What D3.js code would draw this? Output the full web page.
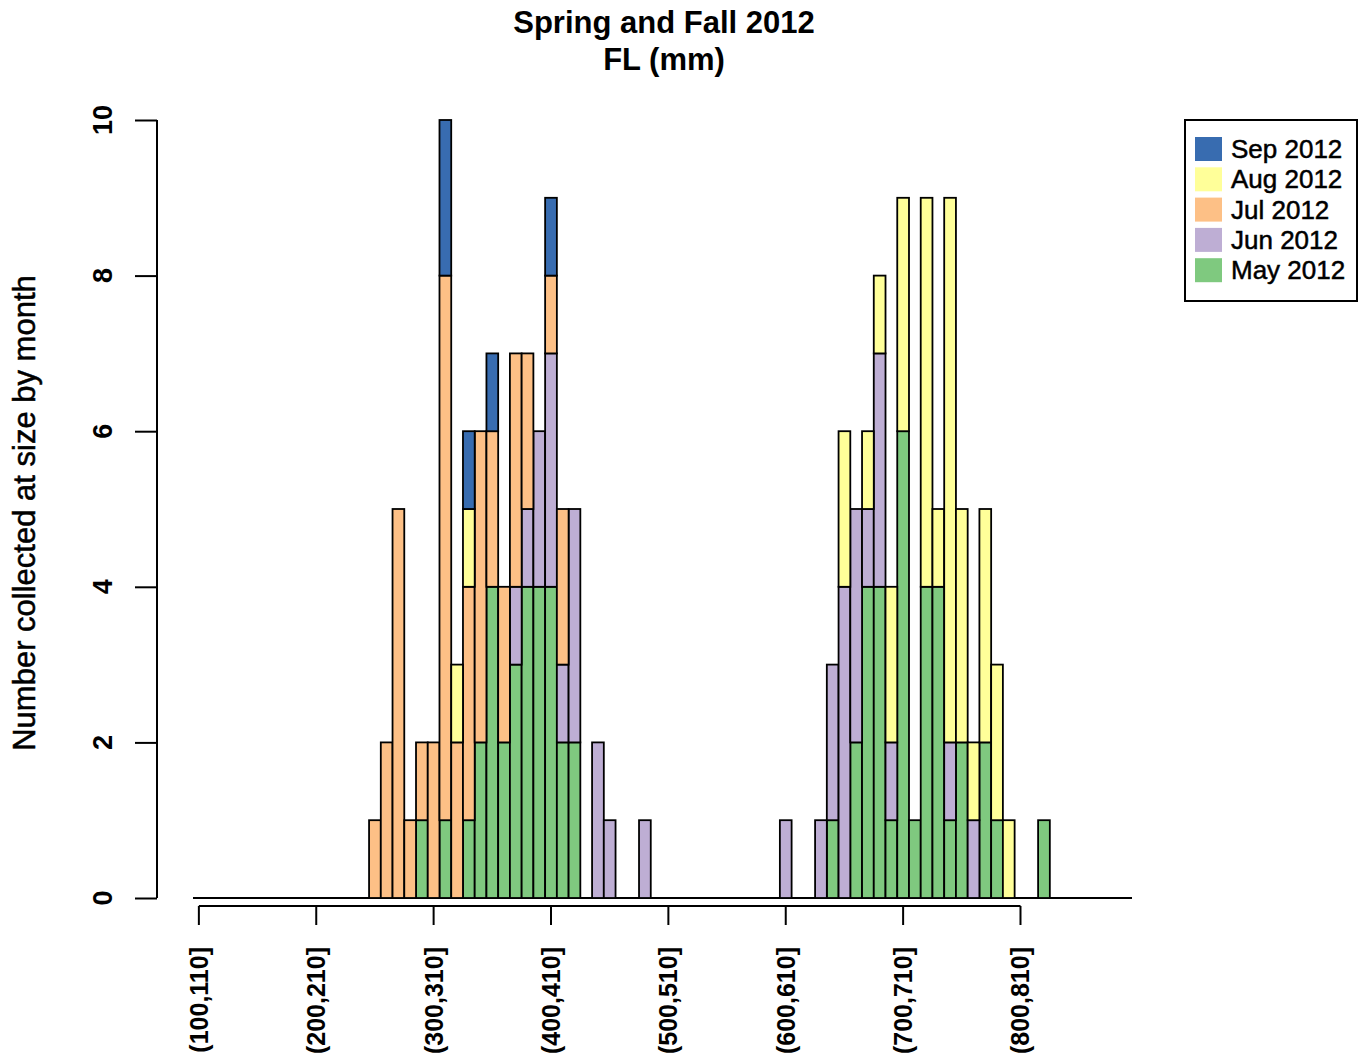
<!DOCTYPE html>
<html>
<head>
<meta charset="utf-8">
<script src="https://cdn.jsdelivr.net/npm/d3@7"></script>
<style>
  html, body { margin: 0; padding: 0; background: #fff; }
  svg { display: block; }
  text { font-family: "Liberation Sans", Arial, sans-serif; fill: #000; }
  .heavy { stroke: #000; stroke-width: 0.5px; }
</style>
</head>
<body>
<svg id="chart" width="1361" height="1059"></svg>
<script>
// Fork length bins (lo,lo+10] from 100 to 900 mm
const binStarts = d3.range(100, 900, 10);
const bins = binStarts.map(b => `(${b},${b + 10}]`);
const tickBins = ["(100,110]", "(200,210]", "(300,310]", "(400,410]",
                  "(500,510]", "(600,610]", "(700,710]", "(800,810]"];
const yTicks = [0, 2, 4, 6, 8, 10];

const months = ["May 2012", "Jun 2012", "Jul 2012", "Aug 2012", "Sep 2012"];
const colors = ["#7FC97F", "#BEAED4", "#FDC086", "#FFFF99", "#386CB0"];

// Counts per bin, 80 bins each (grouped by tens)
const may = [
  0,0,0,0,0,0,0,0,0,0,  0,0,0,0,0,0,0,0,0,1,
  0,1,0,1,2,4,2,3,4,4,  4,2,2,0,0,0,0,0,0,0,
  0,0,0,0,0,0,0,0,0,0,  0,0,0,0,1,0,2,4,4,1,
  6,1,4,4,1,2,0,2,1,0,  0,0,1,0,0,0,0,0,0,0];
const jun = [
  0,0,0,0,0,0,0,0,0,0,  0,0,0,0,0,0,0,0,0,0,
  0,0,0,0,0,0,0,1,1,2,  3,1,3,0,2,1,0,0,1,0,
  0,0,0,0,0,0,0,0,0,0,  1,0,0,1,2,4,3,1,3,1,
  0,0,0,0,1,0,1,0,0,0,  0,0,0,0,0,0,0,0,0,0];
const jul = [
  0,0,0,0,0,0,0,0,0,0,  0,0,0,0,0,1,2,5,1,1,
  2,7,2,3,4,2,2,3,2,0,  1,2,0,0,0,0,0,0,0,0,
  0,0,0,0,0,0,0,0,0,0,  0,0,0,0,0,0,0,0,0,0,
  0,0,0,0,0,0,0,0,0,0,  0,0,0,0,0,0,0,0,0,0];
const aug = [
  0,0,0,0,0,0,0,0,0,0,  0,0,0,0,0,0,0,0,0,0,
  0,0,1,1,0,0,0,0,0,0,  0,0,0,0,0,0,0,0,0,0,
  0,0,0,0,0,0,0,0,0,0,  0,0,0,0,0,2,0,1,1,2,
  3,0,5,1,7,3,1,3,2,1,  0,0,0,0,0,0,0,0,0,0];
const sep = [
  0,0,0,0,0,0,0,0,0,0,  0,0,0,0,0,0,0,0,0,0,
  0,2,0,1,0,1,0,0,0,0,  1,0,0,0,0,0,0,0,0,0,
  0,0,0,0,0,0,0,0,0,0,  0,0,0,0,0,0,0,0,0,0,
  0,0,0,0,0,0,0,0,0,0,  0,0,0,0,0,0,0,0,0,0];

const seriesValues = [may, jun, jul, aug, sep];
const table = bins.map((bin, i) => {
  const row = { bin };
  months.forEach((m, k) => { row[m] = seriesValues[k][i]; });
  return row;
});

const svg = d3.select("#chart");

const x = d3.scaleBand().domain(bins).range([193, 1132]).padding(0);
const y = d3.scaleLinear().domain([0, 10]).range([898, 120]);
const color = d3.scaleOrdinal().domain(months).range(colors);

const stacked = d3.stack().keys(months)(table);

// zero-count bins still show their outline along the base
svg.append("line")
  .attr("x1", x.range()[0]).attr("x2", x.range()[1])
  .attr("y1", y(0)).attr("y2", y(0))
  .attr("stroke", "#000").attr("stroke-width", 1.8);

const layers = svg.append("g").selectAll("g")
  .data(stacked).join("g")
  .attr("fill", d => color(d.key));

layers.selectAll("rect")
  .data(d => d.filter(s => s[1] > s[0]))
  .join("rect")
  .attr("x", d => x(d.data.bin))
  .attr("width", x.bandwidth())
  .attr("y", d => y(d[1]))
  .attr("height", d => y(d[0]) - y(d[1]))
  .attr("stroke", "#000")
  .attr("stroke-width", 1.8);

// x axis: line spans first to last labelled tick
const xAxisY = 906;
const gx = svg.append("g").attr("transform", `translate(0,${xAxisY})`)
  .call(d3.axisBottom(x).tickValues(tickBins).tickSize(19).tickFormat(""));
gx.select(".domain").remove();
gx.selectAll(".tick line").attr("stroke", "#000").attr("stroke-width", 2);
gx.append("line")
  .attr("x1", x(tickBins[0]) + x.bandwidth() / 2)
  .attr("x2", x(tickBins[tickBins.length - 1]) + x.bandwidth() / 2)
  .attr("stroke", "#000").attr("stroke-width", 2);

svg.append("g").selectAll("text")
  .data(tickBins).join("text")
  .attr("transform", d => `translate(${x(d) + x.bandwidth() / 2 + 9},947) rotate(-90)`)
  .attr("text-anchor", "end")
  .attr("font-size", 25)
  .attr("font-weight", "bold")
  .text(d => d);

// y axis
const gy = svg.append("g").attr("transform", "translate(157,0)")
  .call(d3.axisLeft(y).tickValues(yTicks).tickSize(22).tickFormat(""));
gy.select(".domain").attr("stroke", "#000").attr("stroke-width", 2)
  .attr("d", `M0,${y(0)}V${y(10)}`);
gy.selectAll(".tick line").attr("stroke", "#000").attr("stroke-width", 2);

svg.append("g").selectAll("text")
  .data(yTicks).join("text")
  .attr("transform", d => `translate(112,${y(d)}) rotate(-90)`)
  .attr("text-anchor", "middle")
  .attr("font-size", 27)
  .attr("font-weight", "bold")
  .text(d => d);

// axis title
svg.append("text")
  .attr("class", "heavy")
  .attr("transform", "translate(35,513) rotate(-90)")
  .attr("text-anchor", "middle")
  .attr("font-size", 31)
  .text("Number collected at size by month");

// title
svg.append("text")
  .attr("x", 664).attr("y", 33)
  .attr("text-anchor", "middle")
  .attr("font-size", 31).attr("font-weight", "bold")
  .text("Spring and Fall 2012");
svg.append("text")
  .attr("x", 664).attr("y", 70)
  .attr("text-anchor", "middle")
  .attr("font-size", 31).attr("font-weight", "bold")
  .text("FL (mm)");

// legend
const legend = svg.append("g");
legend.append("rect")
  .attr("x", 1185).attr("y", 120).attr("width", 172).attr("height", 181)
  .attr("fill", "#fff").attr("stroke", "#000").attr("stroke-width", 2);
const legendOrder = months.slice().reverse();
const rows = legend.selectAll("g.row")
  .data(legendOrder).join("g").attr("class", "row")
  .attr("transform", (d, i) => `translate(0,${149 + i * 30.3})`);
rows.append("rect")
  .attr("x", 1195).attr("y", -12).attr("width", 27).attr("height", 24)
  .attr("fill", d => color(d));
rows.append("text")
  .attr("class", "heavy")
  .attr("x", 1231).attr("y", 9)
  .attr("font-size", 26)
  .text(d => d);
</script>
</body>
</html>
